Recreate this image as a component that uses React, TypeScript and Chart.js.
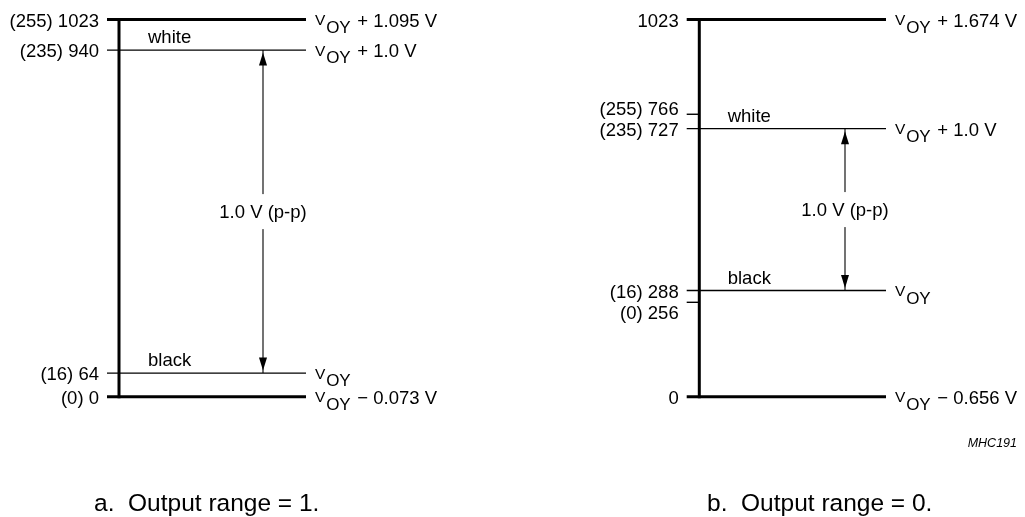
import React, { useEffect, useRef } from "react";
import { Chart, registerables } from "chart.js";

Chart.register(...registerables);

// ---- data (10-bit codes, 8-bit codes, output voltage offsets) ----
const codesA = [1023, 940, 64, 0];
const eightBitA = ["(255)", "(235)", "(16)", "(0)"];
const voltsA: (string | null)[] = ["+ 1.095 V", "+ 1.0 V", "", "\u2212 0.073 V"];

const codesB = [1023, 766, 727, 288, 256, 0];
const eightBitB = ["", "(255)", "(235)", "(16)", "(0)", ""];
const voltsB: (string | null)[] = ["+ 1.674 V", null, "+ 1.0 V", "", null, "\u2212 0.656 V"];

const whiteLevels = [940, 727];
const blackLevels = [64, 288];
const spanLabel = "1.0 V (p-p)";
const captions = ["a.  Output range = 1.", "b.  Output range = 0."];
const figureId = "MHC191";

const FONT = "'Liberation Sans', Arial, Helvetica, sans-serif";

// ---- layout (diagram coordinates, not data) ----
const panels = [
  { codes: codesA, eight: eightBitA, volts: voltsA, white: whiteLevels[0], black: blackLevels[0], x0: 107, x1: 306, bar: 119, arrow: 263, capX: 94, caption: captions[0] },
  { codes: codesB, eight: eightBitB, volts: voltsB, white: whiteLevels[1], black: blackLevels[1], x0: 686.7, x1: 886, bar: 699.3, arrow: 845, capX: 707, caption: captions[1] },
];
const MIN_LABEL_GAP = 21;

function drawVoy(ctx: CanvasRenderingContext2D, x: number, y: number, rest: string) {
  ctx.textAlign = "left";
  ctx.textBaseline = "alphabetic";
  ctx.font = `15.5px ${FONT}`;
  ctx.fillText("V", x, y + 5.5);
  const wV = ctx.measureText("V").width;
  ctx.font = `17px ${FONT}`;
  ctx.fillText("OY", x + wV + 0.8, y + 13);
  const wO = ctx.measureText("OY").width;
  if (rest) {
    ctx.font = `18.5px ${FONT}`;
    ctx.fillText(" " + rest, x + wV + 0.8 + wO + 1.5, y + 7);
  }
}

const textPlugin = {
  id: "diagramText",
  afterDatasetsDraw(chart: any) {
    const ctx: CanvasRenderingContext2D = chart.ctx;
    const xs = chart.scales.x;
    const ys = chart.scales.y;
    ctx.save();
    ctx.fillStyle = "#000";
    panels.forEach((p) => {
      const X0 = xs.getPixelForValue(p.x0);
      const X1 = xs.getPixelForValue(p.x1);
      const XA = xs.getPixelForValue(p.arrow);
      const ypix = p.codes.map((c) => ys.getPixelForValue(c));
      // label positions: tick-only labels are nudged away from neighbouring full-line labels
      const labelY = ypix.slice();
      p.codes.forEach((c, i) => {
        if (p.volts[i] !== null) return;
        [i - 1, i + 1].forEach((j) => {
          if (j < 0 || j >= p.codes.length || p.volts[j] === null) return;
          const d = labelY[i] - ypix[j];
          if (Math.abs(d) < MIN_LABEL_GAP) labelY[i] = ypix[j] + Math.sign(d || -1) * MIN_LABEL_GAP;
        });
      });
      p.codes.forEach((c, i) => {
        const y = ypix[i];
        ctx.font = `18.5px ${FONT}`;
        ctx.textAlign = "right";
        ctx.textBaseline = "alphabetic";
        const lbl = p.eight[i] ? `${p.eight[i]} ${c}` : `${c}`;
        ctx.fillText(lbl, X0 - 8, labelY[i] + 7);
        const v = p.volts[i];
        if (v !== null) drawVoy(ctx, X1 + 9, y, v);
      });
      const yW = ys.getPixelForValue(p.white);
      const yB = ys.getPixelForValue(p.black);
      ctx.font = `18.5px ${FONT}`;
      ctx.textAlign = "left";
      ctx.fillText("white", X0 + 41, yW - 7);
      ctx.fillText("black", X0 + 41, yB - 7);

      // arrow heads
      const hl = 13, hw = 4;
      ctx.beginPath();
      ctx.moveTo(XA, yW + 2.5);
      ctx.lineTo(XA - hw, yW + 2.5 + hl);
      ctx.lineTo(XA + hw, yW + 2.5 + hl);
      ctx.closePath();
      ctx.fill();
      ctx.beginPath();
      ctx.moveTo(XA, yB - 2.5);
      ctx.lineTo(XA - hw, yB - 2.5 - hl);
      ctx.lineTo(XA + hw, yB - 2.5 - hl);
      ctx.closePath();
      ctx.fill();

      // gap + label
      const mid = (yW + yB) / 2;
      ctx.fillStyle = "#fff";
      ctx.fillRect(XA - 3, mid - 17.5, 6, 35);
      ctx.fillStyle = "#000";
      ctx.font = `18.5px ${FONT}`;
      ctx.textAlign = "center";
      ctx.fillText(spanLabel, XA, mid + 6.5);

      // caption
      ctx.font = `24.5px ${FONT}`;
      ctx.textAlign = "left";
      ctx.fillText(p.caption, p.capX, 511);
    });
    ctx.font = `italic 12.5px ${FONT}`;
    ctx.textAlign = "right";
    ctx.fillText(figureId, 1017, 447);
    ctx.restore();
  },
};

export default function App() {
  const ref = useRef<HTMLCanvasElement | null>(null);
  useEffect(() => {
    if (!ref.current) return;
    const datasets: any[] = [];
    const base = { borderColor: "#000", pointRadius: 0, borderCapStyle: "butt", fill: false, clip: false };
    panels.forEach((p) => {
      const top = Math.max(...p.codes);
      const bottom = Math.min(...p.codes);
      p.codes.forEach((c, i) => {
        const isTick = p.volts[i] === null;
        const thick = c === top || c === bottom;
        datasets.push({
          ...base,
          data: [
            { x: p.x0, y: c },
            { x: isTick ? p.bar : p.x1, y: c },
          ],
          borderWidth: thick ? 3 : 1.4,
        });
      });
      datasets.push({
        ...base,
        data: [
          { x: p.bar, y: bottom },
          { x: p.bar, y: top },
        ],
        borderWidth: 3,
        borderCapStyle: "square",
      });
      datasets.push({
        ...base,
        data: [
          { x: p.arrow, y: p.white },
          { x: p.arrow, y: p.black },
        ],
        borderWidth: 1.1,
      });
    });
    const chart = new Chart(ref.current, {
      type: "line",
      data: { datasets },
      options: {
        animation: false,
        responsive: false,
        devicePixelRatio: 1,
        layout: { padding: { top: 19.5, bottom: 120.3, left: 0, right: 0 } },
        scales: {
          x: { type: "linear", min: 0, max: 1025, display: false },
          y: { type: "linear", min: 0, max: 1023, display: false },
        },
        plugins: { legend: { display: false }, tooltip: { enabled: false } },
        events: [],
      },
      plugins: [textPlugin],
    });
    return () => chart.destroy();
  }, []);
  return (
    <div style={{ position: "absolute", left: 0, top: 0, width: 1025, height: 517, background: "#fff" }}>
      <canvas ref={ref} width={1025} height={517} style={{ display: "block" }} />
    </div>
  );
}
